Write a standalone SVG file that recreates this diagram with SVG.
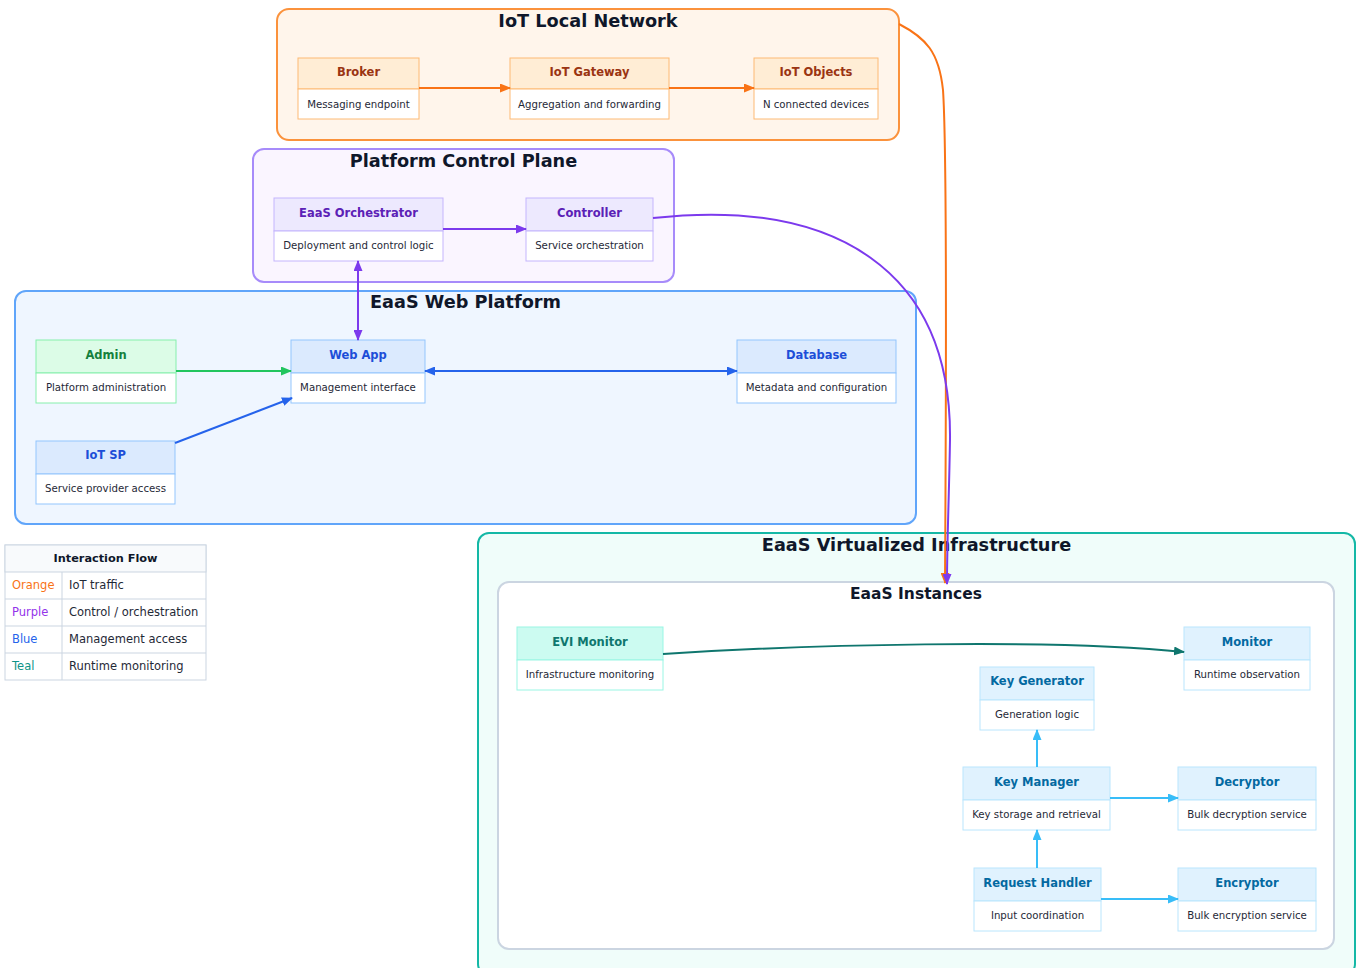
<svg xmlns="http://www.w3.org/2000/svg" width="1356" height="968" viewBox="0 0 1356 968">
  <style>
    text { font-family: "DejaVu Sans", "Liberation Sans", sans-serif; }
    .ctitle { font-size: 17.7px; font-weight: bold; fill: #0f172a; text-anchor: middle; }
    .ntitle { font-size: 11.5px; font-weight: bold; text-anchor: middle; }
    .nbody { font-size: 10.2px; fill: #1f2937; text-anchor: middle; }
    .body { fill: #ffffff; }
    .edge { fill: none; stroke-width: 2; }
    .leg { font-size: 11.5px; fill: #1f2937; }
    /* palettes */
    .or .head { fill: #ffedd5; stroke: #fdba74; } .or .body { stroke: #fdba74; } .or .ntitle { fill: #9a3412; }
    .pu .head { fill: #ede9fe; stroke: #c4b5fd; } .pu .body { stroke: #c4b5fd; } .pu .ntitle { fill: #5b21b6; }
    .gr .head { fill: #dcfce7; stroke: #86efac; } .gr .body { stroke: #86efac; } .gr .ntitle { fill: #15803d; }
    .bl .head { fill: #dbeafe; stroke: #93c5fd; } .bl .body { stroke: #93c5fd; } .bl .ntitle { fill: #1d4ed8; }
    .te .head { fill: #ccfbf1; stroke: #99f6e4; } .te .body { stroke: #99f6e4; } .te .ntitle { fill: #0f766e; }
    .sk .head { fill: #e0f2fe; stroke: #bae6fd; } .sk .body { stroke: #bae6fd; } .sk .ntitle { fill: #0369a1; }
  </style>
  <defs>
    <marker id="a-or" viewBox="0 0 11 9" refX="10" refY="4.5" markerWidth="11" markerHeight="9" markerUnits="userSpaceOnUse" orient="auto-start-reverse"><path d="M0,0 L11,4.5 L0,9 z" fill="#f97316"/></marker>
    <marker id="a-pu" viewBox="0 0 11 9" refX="10" refY="4.5" markerWidth="11" markerHeight="9" markerUnits="userSpaceOnUse" orient="auto-start-reverse"><path d="M0,0 L11,4.5 L0,9 z" fill="#7c3aed"/></marker>
    <marker id="a-gr" viewBox="0 0 11 9" refX="10" refY="4.5" markerWidth="11" markerHeight="9" markerUnits="userSpaceOnUse" orient="auto-start-reverse"><path d="M0,0 L11,4.5 L0,9 z" fill="#22c55e"/></marker>
    <marker id="a-bl" viewBox="0 0 11 9" refX="10" refY="4.5" markerWidth="11" markerHeight="9" markerUnits="userSpaceOnUse" orient="auto-start-reverse"><path d="M0,0 L11,4.5 L0,9 z" fill="#2563eb"/></marker>
    <marker id="a-te" viewBox="0 0 11 9" refX="10" refY="4.5" markerWidth="11" markerHeight="9" markerUnits="userSpaceOnUse" orient="auto-start-reverse"><path d="M0,0 L11,4.5 L0,9 z" fill="#0f766e"/></marker>
    <marker id="a-sk" viewBox="0 0 11 9" refX="10" refY="4.5" markerWidth="11" markerHeight="9" markerUnits="userSpaceOnUse" orient="auto-start-reverse"><path d="M0,0 L11,4.5 L0,9 z" fill="#38bdf8"/></marker>
  </defs>

  <rect width="1356" height="968" fill="#ffffff"/>

  <!-- clusters -->
  <g id="cluster-iot-local">
    <rect x="277" y="9" width="622" height="131" rx="12" fill="#fff5eb" stroke="#fb923c" stroke-width="2"/>
    <text class="ctitle" x="588" y="27">IoT Local Network</text>
  </g>
  <g id="cluster-control-plane">
    <rect x="253" y="149" width="421" height="133" rx="11" fill="#faf5ff" stroke="#a78bfa" stroke-width="2"/>
    <text class="ctitle" x="463.5" y="167">Platform Control Plane</text>
  </g>
  <g id="cluster-web-platform">
    <rect x="15" y="291" width="901" height="233" rx="11" fill="#eff6ff" stroke="#60a5fa" stroke-width="2"/>
    <text class="ctitle" x="465.5" y="308">EaaS Web Platform</text>
  </g>
  <g id="cluster-virtualized">
    <rect x="478" y="533" width="877" height="442" rx="11" fill="#f0fdfa" stroke="#14b8a6" stroke-width="2"/>
    <text class="ctitle" x="916.5" y="551">EaaS Virtualized Infrastructure</text>
  </g>
  <g id="cluster-instances">
    <rect x="498" y="582" width="836" height="367" rx="11" fill="#ffffff" stroke="#cbd5e1" stroke-width="2"/>
    <text class="ctitle" x="916" y="599" style="font-size:15.5px">EaaS Instances</text>
  </g>

  <!-- nodes -->
  <g id="broker" class="or">
    <rect class="head" x="298" y="58" width="121" height="31"/><rect class="body" x="298" y="89" width="121" height="30"/>
    <text class="ntitle" x="358.5" y="76">Broker</text><text class="nbody" x="358.5" y="107.5">Messaging endpoint</text>
  </g>
  <g id="iot-gateway" class="or">
    <rect class="head" x="510" y="58" width="159" height="31"/><rect class="body" x="510" y="89" width="159" height="30"/>
    <text class="ntitle" x="589.5" y="76">IoT Gateway</text><text class="nbody" x="589.5" y="107.5">Aggregation and forwarding</text>
  </g>
  <g id="iot-objects" class="or">
    <rect class="head" x="754" y="58" width="124" height="31"/><rect class="body" x="754" y="89" width="124" height="30"/>
    <text class="ntitle" x="816" y="76">IoT Objects</text><text class="nbody" x="816" y="107.5">N connected devices</text>
  </g>

  <g id="orchestrator" class="pu">
    <rect class="head" x="274" y="198" width="169" height="33"/><rect class="body" x="274" y="231" width="169" height="30"/>
    <text class="ntitle" x="358.5" y="217">EaaS Orchestrator</text><text class="nbody" x="358.5" y="249">Deployment and control logic</text>
  </g>
  <g id="controller" class="pu">
    <rect class="head" x="526" y="198" width="127" height="33"/><rect class="body" x="526" y="231" width="127" height="30"/>
    <text class="ntitle" x="589.5" y="217">Controller</text><text class="nbody" x="589.5" y="249">Service orchestration</text>
  </g>

  <g id="admin" class="gr">
    <rect class="head" x="36" y="340" width="140" height="33"/><rect class="body" x="36" y="373" width="140" height="30"/>
    <text class="ntitle" x="106" y="359">Admin</text><text class="nbody" x="106" y="391">Platform administration</text>
  </g>
  <g id="web-app" class="bl">
    <rect class="head" x="291" y="340" width="134" height="33"/><rect class="body" x="291" y="373" width="134" height="30"/>
    <text class="ntitle" x="358" y="359">Web App</text><text class="nbody" x="358" y="391">Management interface</text>
  </g>
  <g id="database" class="bl">
    <rect class="head" x="737" y="340" width="159" height="33"/><rect class="body" x="737" y="373" width="159" height="30"/>
    <text class="ntitle" x="816.5" y="359">Database</text><text class="nbody" x="816.5" y="391">Metadata and configuration</text>
  </g>
  <g id="iot-sp" class="bl">
    <rect class="head" x="36" y="441" width="139" height="33"/><rect class="body" x="36" y="474" width="139" height="30"/>
    <text class="ntitle" x="105.5" y="459">IoT SP</text><text class="nbody" x="105.5" y="492">Service provider access</text>
  </g>

  <g id="evi-monitor" class="te">
    <rect class="head" x="517" y="627" width="146" height="33"/><rect class="body" x="517" y="660" width="146" height="30"/>
    <text class="ntitle" x="590" y="646">EVI Monitor</text><text class="nbody" x="590" y="678">Infrastructure monitoring</text>
  </g>
  <g id="monitor" class="sk">
    <rect class="head" x="1184" y="627" width="126" height="33"/><rect class="body" x="1184" y="660" width="126" height="30"/>
    <text class="ntitle" x="1247" y="646">Monitor</text><text class="nbody" x="1247" y="678">Runtime observation</text>
  </g>
  <g id="key-generator" class="sk">
    <rect class="head" x="980" y="667" width="114" height="33"/><rect class="body" x="980" y="700" width="114" height="30"/>
    <text class="ntitle" x="1037" y="685">Key Generator</text><text class="nbody" x="1037" y="718">Generation logic</text>
  </g>
  <g id="key-manager" class="sk">
    <rect class="head" x="963" y="767" width="147" height="33"/><rect class="body" x="963" y="800" width="147" height="30"/>
    <text class="ntitle" x="1036.5" y="786">Key Manager</text><text class="nbody" x="1036.5" y="818">Key storage and retrieval</text>
  </g>
  <g id="decryptor" class="sk">
    <rect class="head" x="1178" y="767" width="138" height="33"/><rect class="body" x="1178" y="800" width="138" height="30"/>
    <text class="ntitle" x="1247" y="786">Decryptor</text><text class="nbody" x="1247" y="818">Bulk decryption service</text>
  </g>
  <g id="request-handler" class="sk">
    <rect class="head" x="974" y="868" width="127" height="33"/><rect class="body" x="974" y="901" width="127" height="30"/>
    <text class="ntitle" x="1037.5" y="887">Request Handler</text><text class="nbody" x="1037.5" y="919">Input coordination</text>
  </g>
  <g id="encryptor" class="sk">
    <rect class="head" x="1178" y="868" width="138" height="33"/><rect class="body" x="1178" y="901" width="138" height="30"/>
    <text class="ntitle" x="1247" y="887">Encryptor</text><text class="nbody" x="1247" y="919">Bulk encryption service</text>
  </g>

  <!-- connectors -->
  <g id="connectors">
    <path class="edge" stroke="#f97316" marker-end="url(#a-or)" d="M419,88 L510,88"/>
    <path class="edge" stroke="#f97316" marker-end="url(#a-or)" d="M669,88 L754,88"/>
    <path class="edge" stroke="#f97316" marker-end="url(#a-or)" d="M899,24 C926,38 939,52 943,90 C947,150 946,420 945,583"/>
    <path class="edge" stroke="#7c3aed" marker-end="url(#a-pu)" d="M443,229 L526,229"/>
    <path class="edge" stroke="#7c3aed" marker-start="url(#a-pu)" marker-end="url(#a-pu)" d="M358,261 L358,340"/>
    <path class="edge" stroke="#7c3aed" marker-end="url(#a-pu)" d="M653,218 C835,198 952,270 950,440 C949,500 947,540 947,584"/>
    <path class="edge" stroke="#22c55e" marker-end="url(#a-gr)" d="M176,371 L291,371"/>
    <path class="edge" stroke="#2563eb" marker-end="url(#a-bl)" d="M175,443 L292,398"/>
    <path class="edge" stroke="#2563eb" marker-start="url(#a-bl)" marker-end="url(#a-bl)" d="M425,371 L737,371"/>
    <path class="edge" stroke="#0f766e" marker-end="url(#a-te)" d="M663,654 C800,645 1050,638 1184,652"/>
    <path class="edge" stroke="#38bdf8" marker-end="url(#a-sk)" d="M1037,767 L1037,730"/>
    <path class="edge" stroke="#38bdf8" marker-end="url(#a-sk)" d="M1037,868 L1037,830"/>
    <path class="edge" stroke="#38bdf8" marker-end="url(#a-sk)" d="M1110,798 L1178,798"/>
    <path class="edge" stroke="#38bdf8" marker-end="url(#a-sk)" d="M1101,899 L1178,899"/>
  </g>

  <!-- legend -->
  <g id="legend">
    <rect x="5" y="545" width="201" height="135" fill="#ffffff" stroke="#cbd5e1"/>
    <rect x="5" y="545" width="201" height="27" fill="#f8fafc" stroke="#cbd5e1"/>
    <path d="M5,599 H206 M5,626 H206 M5,653 H206 M62,572 V680" stroke="#cbd5e1" fill="none"/>
    <text x="105.5" y="562" style="font-size:11.3px;font-weight:bold;fill:#0f172a;text-anchor:middle">Interaction Flow</text>
    <text class="leg" x="12" y="589" style="fill:#f97316">Orange</text><text class="leg" x="69" y="589">IoT traffic</text>
    <text class="leg" x="12" y="616" style="fill:#9333ea">Purple</text><text class="leg" x="69" y="616">Control / orchestration</text>
    <text class="leg" x="12" y="643" style="fill:#2563eb">Blue</text><text class="leg" x="69" y="643">Management access</text>
    <text class="leg" x="12" y="670" style="fill:#0d9488">Teal</text><text class="leg" x="69" y="670">Runtime monitoring</text>
  </g>
</svg>
